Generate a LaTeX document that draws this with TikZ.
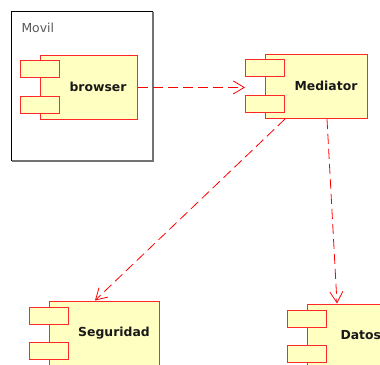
\documentclass[tikz,border=0pt]{standalone}
\usepackage{fontspec}
\setsansfont{DejaVu Sans}
\usetikzlibrary{arrows.meta}

\definecolor{compred}{RGB}{255,40,40}
\definecolor{compfill}{RGB}{255,255,194}

\tikzset{
    comp/.style={draw=compred, fill=compfill, line width=0.9pt, inner sep=0pt,
        anchor=north west},
    port/.style={comp, minimum width=39pt, minimum height=17pt},
    compname/.style={font=\sffamily\bfseries\fontsize{12.4}{14}\selectfont, text=black!90},
    dep/.style={draw=red, line width=0.8pt, dash pattern=on 10pt off 5pt,
        -{Straight Barb[length=11pt,width=13pt]}}
}

\begin{document}
\begin{tikzpicture}[
            x={(1pt,0pt)},
            y={(0pt,-1pt)}
        ]

        \useasboundingbox (0,0) rectangle (380,364);

        % package: dark top/left, grey right/bottom
        \node[minimum width=141pt, minimum height=149pt, inner sep=0pt,
            anchor=north west] (movil) at (11.5,11.5) {};
        \draw[black!55, line width=1.4pt] (movil.north east) -- (movil.south east) -- (movil.south west);
        \draw[black, line width=0.9pt] (movil.south west) -- (movil.north west) -- (movil.north east);
        \node[font=\sffamily\fontsize{12.4}{14}\selectfont, text=black!65, anchor=west]
            (movilname) at (18,28) {Movil};

        % browser
        \node[comp, minimum width=97pt, minimum height=64pt] (browser) at (40,55) {};
        \node[port] (browserp1) at (20,60) {};
        \node[port] (browserp2) at (20,96) {};
        \node[compname] (browsername) at (98,87) {browser};

        % Mediator
        \node[comp, minimum width=102pt, minimum height=64pt] (mediator) at (265,54) {};
        \node[port] (mediatorp1) at (245,59) {};
        \node[port] (mediatorp2) at (245,95) {};
        \node[compname] (mediatorname) at (326,86) {Mediator};

        % Seguridad
        \node[comp, minimum width=110pt, minimum height=64pt] (seguridad) at (49,301) {};
        \node[port] (seguridadp1) at (29,307) {};
        \node[port] (seguridadp2) at (29,342) {};
        \node[compname] (seguridadname) at (114,333) {Seguridad};

        % Datos
        \node[comp, minimum width=100pt, minimum height=64pt] (datos) at (307,304) {};
        \node[port] (datosp1) at (287,310) {};
        \node[port] (datosp2) at (287,345) {};
        \node[compname, anchor=west] (datosname) at (337,335) {Datos};

        % dependencies
        \coordinate (medsw) at (285,119);
        \coordinate (medsouth) at (327,119);
        \coordinate (segnorth) at (95,300.5);
        \coordinate (datnorth) at (337,303.5);

        \draw[dep] (browser.east) -- (browser.east -| mediatorp1.west);
        \draw[dep] (medsw) -- (segnorth);
        \draw[dep] (medsouth) -- (datnorth);

        \end{tikzpicture}
\end{document}
